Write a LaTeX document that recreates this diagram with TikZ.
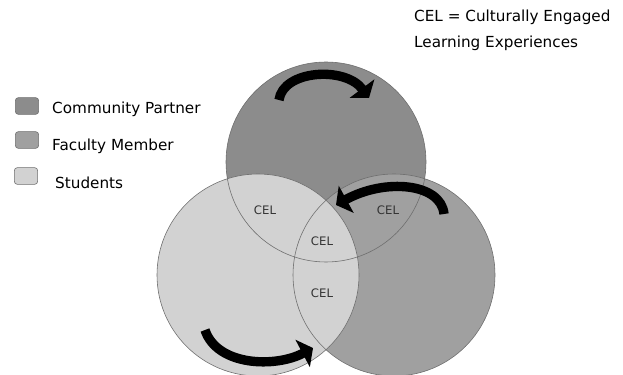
\documentclass[tikz,border=0pt]{standalone}
\usepackage{fontspec}
\setmainfont{DejaVu Sans}
\usetikzlibrary{arrows.meta}
\definecolor{cpart}{HTML}{8C8C8C}
\definecolor{cfac}{HTML}{A0A0A0}
\definecolor{cstud}{HTML}{D2D2D2}
\definecolor{cedge}{HTML}{6E6E6E}
\tikzset{
  circedge/.style={draw=cedge, line width=0.5pt},
  legbox/.style={draw=cedge, line width=0.5pt, rounded corners=2.5pt, minimum width=0.7cm, minimum height=0.5cm, inner sep=0pt},
  legtext/.style={anchor=west, font=\fontsize{13}{15}\selectfont, inner sep=0pt},
  cellabel/.style={font=\fontsize{10}{12}\selectfont, text=black!80, inner sep=0pt},
  bigarrow/.style={line width=8pt, -{Triangle[length=10pt,width=26pt]}},
}
\begin{document}
\begin{tikzpicture}[x=0.03cm,y=-0.03cm]
\useasboundingbox (0,0) rectangle (623,375);
% circle centres
\coordinate (ctop) at (326,162);
\coordinate (cleft) at (258,275);
\coordinate (cright) at (394,275);
% fills
\fill[cpart] (ctop) circle[radius=100];
\fill[cfac] (cright) circle[radius=101];
\fill[cstud] (cleft) circle[radius=101];
% outlines
\draw[circedge] (ctop) circle[radius=100];
\draw[circedge] (cright) circle[radius=101];
\draw[circedge] (cleft) circle[radius=101];
% labels
\node[cellabel] (cel1) at (265,210) {CEL};
\node[cellabel] (cel2) at (388,210) {CEL};
\node[cellabel] (cel3) at (322,241) {CEL};
\node[cellabel] (cel4) at (322,293) {CEL};
% arrows
\coordinate (a1s) at (279,100);
\coordinate (a1e) at (369,98);
\draw[bigarrow] (a1s) .. controls (283,70) and (345,66) .. (a1e);
\coordinate (a2s) at (444,214);
\coordinate (a2e) at (336,205);
\draw[bigarrow] (a2s) .. controls (441,183) and (385,178) .. (a2e);
\coordinate (a3s) at (205,330);
\coordinate (a3e) at (313,348);
\draw[bigarrow] (a3s) .. controls (217,366) and (275,368) .. (a3e);
% legend
\node[legbox, fill=cpart] (lb1) at (27,106) {};
\node[legbox, fill=cfac] (lb2) at (27,140) {};
\node[legbox, fill=cstud] (lb3) at (26,176) {};
\node[legtext] (lt1) at (52,109) {Community Partner};
\node[legtext] (lt2) at (52,146) {Faculty Member};
\node[legtext] (lt3) at (55,183) {Students};
% key
\node[legtext] (k1) at (414,17) {CEL = Culturally Engaged};
\node[legtext] (k2) at (414,43) {Learning Experiences};
\end{tikzpicture}
\end{document}
